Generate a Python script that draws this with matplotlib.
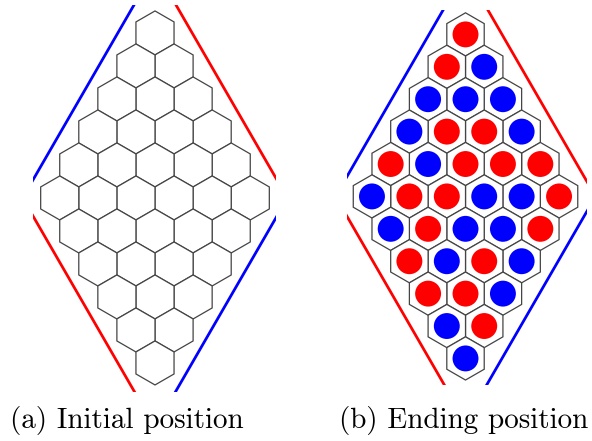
import numpy as np
import matplotlib
matplotlib.use("Agg")
import matplotlib.pyplot as plt
from matplotlib.patches import RegularPolygon, Circle

# ---- data ----
board_size = 6
ending_rows = ["R", "RB", "BBB", "BRRB", "RBRRR", "BRRBBR",
               "BRBBR", "RBRB", "RRB", "BR", "B"]
captions = ["(a) Initial position", "(b) Ending position"]
stone_colors = {"R": "#ff0000", "B": "#0000ff"}

W, H = 592, 441
fig = plt.figure(figsize=(W / 100, H / 100), dpi=100)

s3 = np.sqrt(3)


def cell_center(i, j):
    k = i + j
    x = (j - i) * s3 / 2
    y = (board_size - 1) * 1.5 - 1.5 * k
    return x, y


def draw_board(ax, rows=None):
    n = board_size
    for i in range(n):
        for j in range(n):
            x, y = cell_center(i, j)
            ax.add_patch(RegularPolygon((x, y), 6, radius=1.0, orientation=0,
                                        facecolor="white", edgecolor="#444444",
                                        lw=0.9, zorder=2))
    if rows is not None:
        for k, row in enumerate(rows):
            jstart = max(0, k - (n - 1))
            for p, c in enumerate(row):
                j = jstart + p
                i = k - j
                x, y = cell_center(i, j)
                ax.add_patch(Circle((x, y), 0.6, facecolor=stone_colors[c],
                                    edgecolor="none", zorder=3))
    # border lines: diamond of centres scaled outward
    f = 1.39
    top = (0, (n - 1) * 1.5 * f)
    bottom = (0, -(n - 1) * 1.5 * f)
    left = (-(n - 1) * s3 / 2 * f, 0)
    right = ((n - 1) * s3 / 2 * f, 0)
    lw = 2.0
    ax.plot([top[0], left[0]], [top[1], left[1]], color="#0000ff", lw=lw)
    ax.plot([top[0], right[0]], [top[1], right[1]], color="#ff0000", lw=lw)
    ax.plot([bottom[0], left[0]], [bottom[1], left[1]], color="#ff0000", lw=lw)
    ax.plot([bottom[0], right[0]], [bottom[1], right[1]], color="#0000ff", lw=lw)
    ax.set_aspect("equal")
    ax.axis("off")


ax1 = fig.add_axes([33 / W, (H - 392) / H, 243 / W, 387 / H])
draw_board(ax1)
ax1.set_xlim(-5.545, 5.5)
ax1.set_ylim(-8.82, 8.77)

ax2 = fig.add_axes([346.7 / W, (H - 385) / H, 240 / W, 375 / H])
draw_board(ax2, ending_rows)
ax2.set_xlim(-5.5, 5.61)
ax2.set_ylim(-8.73, 8.63)

fig.text(127 / W, (H - 428) / H, captions[0], family="cmr10", fontsize=21,
         ha="center", va="baseline")
fig.text(464 / W, (H - 428) / H, captions[1], family="cmr10", fontsize=21,
         ha="center", va="baseline")

fig.savefig("out.png", dpi=100)
